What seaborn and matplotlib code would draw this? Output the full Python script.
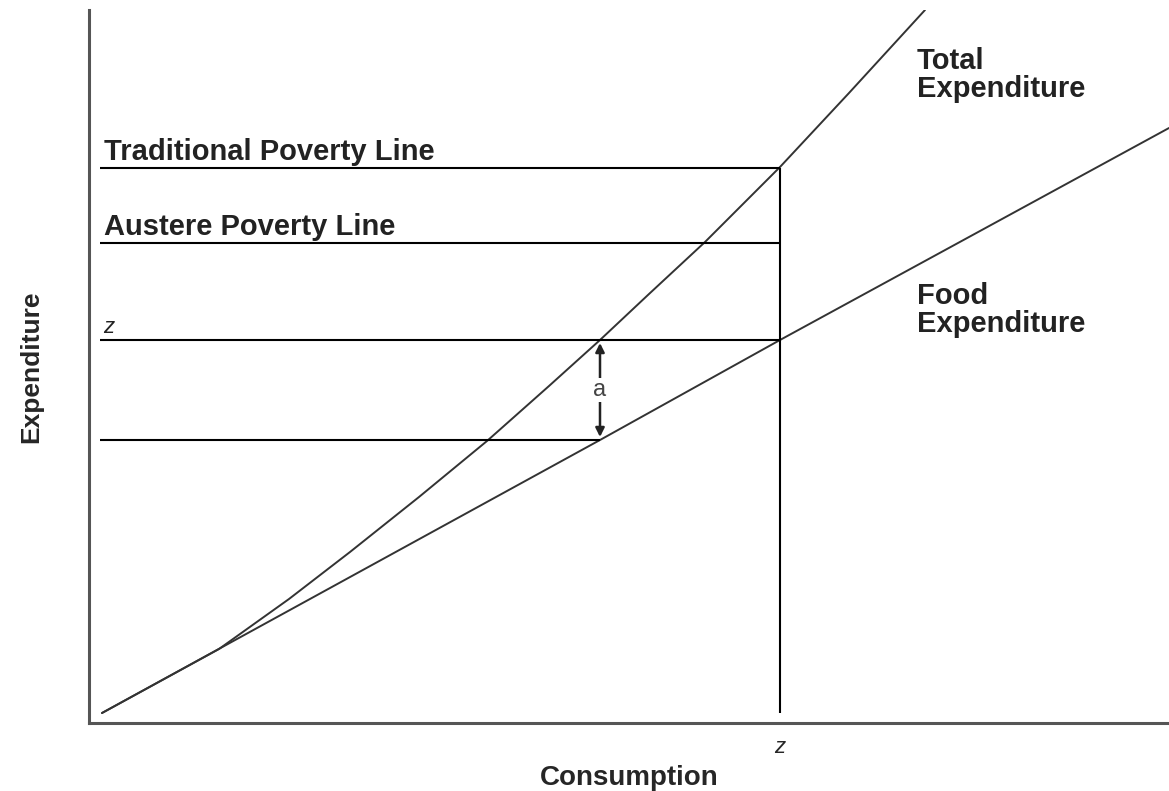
import matplotlib
matplotlib.use("Agg")
import matplotlib.pyplot as plt
import seaborn as sns
import pandas as pd

sns.set_theme(style="white")
plt.rcParams['font.family'] = ['Liberation Sans Narrow', 'Liberation Sans', 'DejaVu Sans']

# curves (consumption -> expenditure)
food_x = [13, 511, 691, 1080]
food_y = [10, 283, 383, 595]
total_x = [13, 130, 200, 261, 330, 398, 460, 511, 560, 616, 691, 760, 836]
total_y = [10, 74, 124, 171, 226, 282, 337, 383, 429, 481, 556, 630, 713]

# horizontal reference lines
line_names = ["Traditional Poverty Line", "Austere Poverty Line", "z", ""]
line_levels = [555, 480, 383, 283]
line_ends = [691, 691, 691, 511]
line_start = 11

z_consumption = 691
gap_top, gap_bottom = 383, 283

LINE = "#333333"

fig = plt.figure(figsize=(11.69, 7.91), dpi=100)
ax = fig.add_axes([89 / 1169, 68 / 791, 1080 / 1169, 713 / 791])

food = pd.DataFrame({"x": food_x, "y": food_y})
total = pd.DataFrame({"x": total_x, "y": total_y})
sns.lineplot(data=food, x="x", y="y", ax=ax, color=LINE, lw=1.4,
             estimator=None, sort=False)
sns.lineplot(data=total, x="x", y="y", ax=ax, color=LINE, lw=1.4,
             estimator=None, sort=False)

for name, lev, end in zip(line_names, line_levels, line_ends):
    ax.hlines(lev, line_start, end, color="black", lw=1.5)
    if name == "z":
        ax.text(line_start + 3, lev + 7, name, fontsize=16, style="italic",
                ha="left", va="baseline", color="#222222")
    elif name:
        ax.text(line_start + 4, lev + 8, name, fontsize=21, fontweight="bold",
                ha="left", va="baseline", color="#222222")

# vertical at z
ax.vlines(z_consumption, food_y[0], line_levels[0], color="black", lw=1.5)

# arrow "a"
ax.annotate("", xy=(food_x[1], gap_top - 3), xytext=(food_x[1], gap_bottom + 3),
            arrowprops=dict(arrowstyle="<|-|>", color="#222222", lw=1.8,
                            mutation_scale=13, shrinkA=0, shrinkB=0))
ax.text(food_x[1], (gap_top + gap_bottom) / 2, "a", fontsize=17,
        ha="center", va="center", color="#444444",
        bbox=dict(facecolor="white", edgecolor="none", pad=0.5))

ax.text(828, 676, "Total\nExpenditure", fontsize=21, fontweight="bold",
        ha="left", va="top", color="#222222", linespacing=1.0)
ax.text(828, 441, "Food\nExpenditure", fontsize=21, fontweight="bold",
        ha="left", va="top", color="#222222", linespacing=1.0)

ax.set_xlim(0, 1080)
ax.set_ylim(0, 713)
ax.set_xticks([z_consumption])
ax.set_xticklabels(["z"], fontsize=16, style="italic")
ax.set_yticks([])
ax.tick_params(axis="x", length=0, pad=10)
ax.set_xlabel("Consumption", fontsize=20, fontweight="bold", labelpad=5)
ax.set_ylabel("Expenditure", fontsize=19, fontweight="bold", labelpad=33)

sns.despine(ax=ax)
for s in ["left", "bottom"]:
    ax.spines[s].set_color("#555555")
    ax.spines[s].set_linewidth(2.2)

fig.savefig("out.png", dpi=100)
